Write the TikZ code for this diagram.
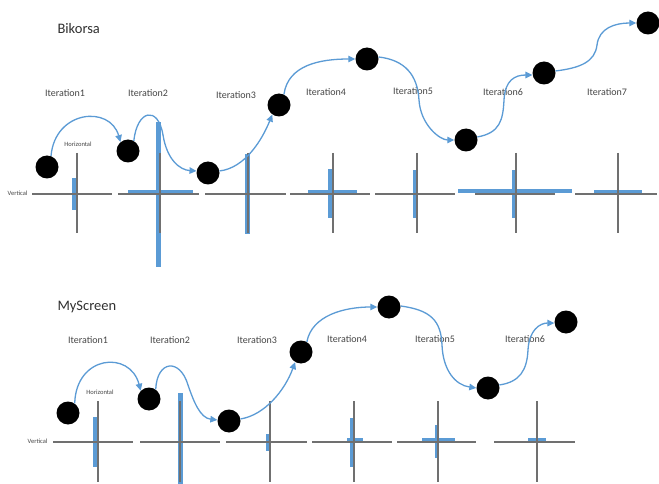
\documentclass[tikz,border=0pt]{standalone}
\usepackage{fontspec}
\setmainfont{Carlito}
\usetikzlibrary{arrows.meta}
\definecolor{flow}{RGB}{91,155,213}
\definecolor{axisgray}{RGB}{112,112,112}
\definecolor{txt}{RGB}{70,70,70}
\tikzset{
  ball/.style={circle, fill=black, minimum size=23pt, inner sep=0pt},
  hop/.style={draw=flow, line width=1.3pt, -{Triangle[length=7pt,width=6.5pt]}},
  axisline/.style={draw=axisgray, line width=1.3pt},
  bar/.style={fill=flow, draw=none},
  itlabel/.style={font=\fontsize{10}{12}\selectfont, text=txt},
  heading/.style={font=\fontsize{14.5}{17}\selectfont, text=txt!70!black, anchor=west},
  small/.style={font=\fontsize{6.5}{8}\selectfont, text=txt}
}
\begin{document}
\begin{tikzpicture}[x=1pt, y=-1pt]
\useasboundingbox[fill=white] (0,0) rectangle (659,484);

% ---------------- Bikorsa ----------------
\node[heading] (t1) at (54,29) {Bikorsa};
\foreach \x/\y/\n in {65/93/1, 148/93/2, 236/95/3, 326/92/4, 413/91/5, 503/92/6, 607/92/7}
  \node[itlabel] (ia\n) at (\x,\y) {Iteration\n};

% histogram bars
\fill[bar] (72,178) rectangle (77,210);
\fill[bar] (156,122) rectangle (161,267);
\fill[bar] (128,190) rectangle (193,193);
\fill[bar] (245,154) rectangle (250,234);
\fill[bar] (328,169) rectangle (333,218);
\fill[bar] (308,190) rectangle (357,194);
\fill[bar] (413,170) rectangle (417,218);
\fill[bar] (512,170) rectangle (516,218);
\fill[bar] (458,189) rectangle (572,193);
\fill[bar] (594,190) rectangle (642,194);

% axes
\foreach \a/\b/\v in {32/112/77, 118/199/160, 205/286/248, 290/370/333, 375/455/417, 475/555/516, 575/657/618}{
  \draw[axisline] (\a,194) -- (\b,194);
  \draw[axisline] (\v,153) -- (\v,233);
}
\node[small, anchor=east] (va) at (31,193) {Vertical};
\node[small] (ha) at (78,144) {Horizontal};

% positions
\node[ball] (a1) at (47,167) {};
\node[ball] (a2) at (128,151) {};
\node[ball] (a3) at (208,173) {};
\node[ball] (a4) at (279,105) {};
\node[ball] (a5) at (367,59) {};
\node[ball] (a6) at (466,140) {};
\node[ball] (a7) at (544,73) {};
\node[ball] (a8) at (648,23) {};

\draw[hop] (a1.70) .. controls (55,110) and (110,105) .. (a2.130);
\draw[hop] (a2.60) .. controls (137,110) and (158,105) .. (163,135)
                   .. controls (167,160) and (180,170) .. (a3.170);
\draw[hop] (a3.10) .. controls (245,168) and (262,140) .. (a4.235);
\draw[hop] (a4.65) .. controls (288,65) and (320,59) .. (a5.180);
\draw[hop] (a5.10) .. controls (405,60) and (417.5,75) .. (419,100)
                   .. controls (420.5,125) and (440,140) .. (a6.180);
\draw[hop] (a6.15) .. controls (500,133) and (503,120) .. (504,100)
                   .. controls (505,80) and (515,75) .. (a7.190);
\draw[hop] (a7.10) .. controls (580,68) and (595,62) .. (597,45)
                   .. controls (599,28) and (615,23) .. (a8.180);

% ---------------- MyScreen ----------------
\node[heading] (t2) at (54,307) {MyScreen};
\foreach \x/\y/\n in {88/340/1, 170/340/2, 257/340/3, 347/339/4, 435/339/5, 525/339/6}
  \node[itlabel] (ib\n) at (\x,\y) {Iteration\n};

\fill[bar] (93,417) rectangle (98,467);
\fill[bar] (178,393) rectangle (183,484);
\fill[bar] (266,434) rectangle (270,451);
\fill[bar] (350,418) rectangle (355,467);
\fill[bar] (347,438) rectangle (363,442);
\fill[bar] (435,425) rectangle (439,458);
\fill[bar] (422,438) rectangle (455,442);
\fill[bar] (528,438) rectangle (546,442);

\foreach \a/\b/\v in {53/133/98, 140/220/180, 226/307/270, 312/392/354, 397/476/438, 494/575/537}{
  \draw[axisline] (\a,442) -- (\b,442);
  \draw[axisline] (\v,401) -- (\v,482);
}
\node[small, anchor=east] (vb) at (51,441) {Vertical};
\node[small] (hb) at (100,392) {Horizontal};

\node[ball] (b1) at (68,413) {};
\node[ball] (b2) at (149,399) {};
\node[ball] (b3) at (229,421) {};
\node[ball] (b4) at (301,352) {};
\node[ball] (b5) at (389,307) {};
\node[ball] (b6) at (488,388) {};
\node[ball] (b7) at (566,322) {};

\draw[hop] (b1.55) .. controls (76,355) and (130,350) .. (b2.135);
\draw[hop] (b2.55) .. controls (157,360) and (180,358) .. (188,385)
                   .. controls (193.5,401) and (200,418) .. (b3.175);
\draw[hop] (b3.10) .. controls (265,415) and (285,390) .. (b4.240);
\draw[hop] (b4.60) .. controls (312,315) and (345,307) .. (b5.180);
\draw[hop] (b5.5) .. controls (430,310) and (441,320) .. (442,345)
                  .. controls (443,370) and (455,385) .. (b6.180);
\draw[hop] (b6.15) .. controls (520,382) and (527,370) .. (528,350)
                   .. controls (529,330) and (540,323) .. (b7.185);
\end{tikzpicture}
\end{document}
